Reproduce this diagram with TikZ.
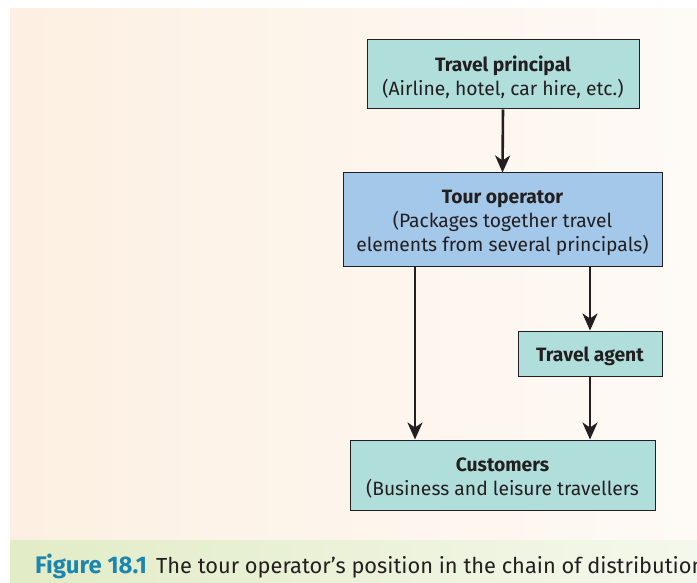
\documentclass[tikz,border=0pt]{standalone}
\usepackage{fontspec}
\setmainfont{Fira Sans}
\usetikzlibrary{arrows.meta}
\definecolor{tealbox}{HTML}{B0DFDB}
\definecolor{bluebox}{HTML}{A3C8EA}
\definecolor{peachL}{HTML}{FDF0E2}
\definecolor{peachR}{HTML}{FEFAF6}
\definecolor{capL}{HTML}{E2ECC6}
\definecolor{capR}{HTML}{F4F8EC}
\definecolor{figblue}{HTML}{1C86B0}
\definecolor{ink}{HTML}{231F20}
\tikzset{
  box/.style={draw=ink, line width=1pt, fill=tealbox, inner sep=0pt},
  boxtext/.style={align=center, inner sep=0pt, yshift=-3pt,
    font=\fontsize{19.3}{24}\selectfont, text=ink},
  flow/.style={draw=ink, line width=2.6pt, -{Stealth[length=17pt,width=15pt,inset=5pt]}}
}
\begin{document}
\begin{tikzpicture}[x=1pt,y=-1pt]
\useasboundingbox (0,0) rectangle (697,583);
\fill[white] (0,0) rectangle (697,583);
\begin{scope}
\clip (0,0) rectangle (697,583);
% backgrounds
\shade[left color=peachL, right color=peachR] (10,9) rectangle (697,540);
\shade[left color=capL, right color=capR] (10,540) rectangle (697,583);
% boxes
\node[box, minimum width=272pt, minimum height=69pt] (tp) at (503,74.5) {};
\node[box, fill=bluebox, minimum width=319pt, minimum height=94pt] (to) at (502.5,220) {};
\node[box, minimum width=144pt, minimum height=45pt] (ta) at (590,353.5) {};
\node[box, minimum width=305pt, minimum height=70pt] (cu) at (502.5,475) {};
% box texts
\node[boxtext] (tpt) at (tp.center) {\textbf{Travel principal}\\(Airline, hotel, car hire, etc.)};
\node[boxtext] (tot) at (to.center) {\textbf{Tour operator}\\(Packages together travel\\elements from several principals)};
\node[boxtext] (tat) at (ta.center) {\textbf{Travel agent}};
\node[boxtext] (cut) at (cu.center) {\textbf{Customers}\\(Business and leisure travellers};
% connectors
\draw[flow] (tp.south) -- (to.north);
\draw[flow] (to.south -| ta.north) -- (ta.north);
\draw[flow] (ta.south) -- (cu.north -| ta.south);
\draw[flow] (to.south -| 415,0) -- (cu.north -| 415,0);
% caption
\node[anchor=base west, inner sep=0pt, font=\fontsize{21.8}{24}\selectfont, text=ink] (cap) at (35,573)
  {\textcolor{figblue}{\fontsize{24}{24}\selectfont\textbf{Figure 18.1}}\hspace{9pt}The tour operator’s position in the chain of distribution};
\end{scope}
\end{tikzpicture}
\end{document}
